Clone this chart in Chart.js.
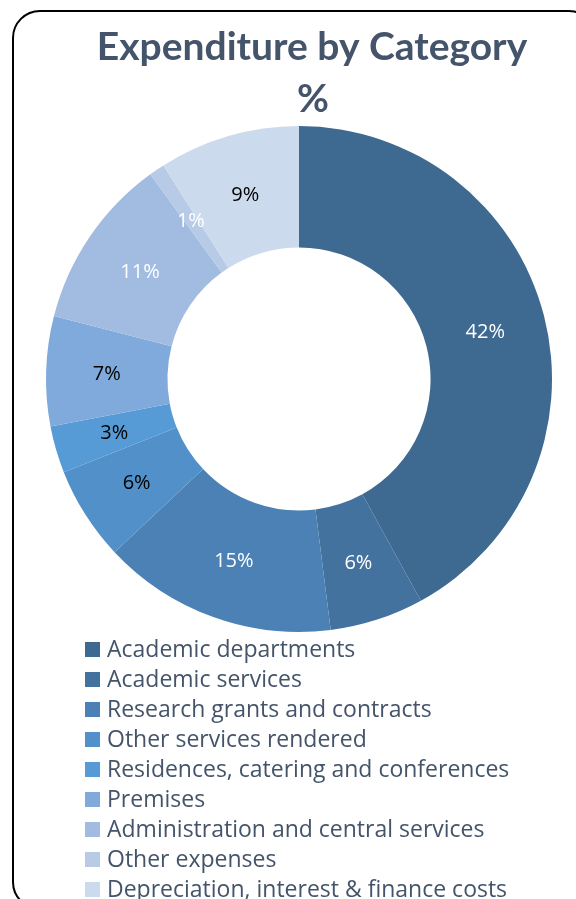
<!DOCTYPE html>
<html>
<head>
<meta charset="utf-8">
<script src="https://cdn.jsdelivr.net/npm/chart.js@4.4.0/dist/chart.umd.min.js"></script>
<style>
  html, body { margin: 0; padding: 0; background: #fff; overflow: hidden; }
  .frame {
    position: absolute; left: 12px; top: 10px; width: 585px; height: 900px;
    border: 2px solid #000; border-radius: 28px; box-sizing: border-box;
  }
  #wrap { position: absolute; left: 0; top: 0; width: 576px; height: 899px; }
</style>
</head>
<body>
<div class="frame"></div>
<div id="wrap"><canvas id="myChart" width="576" height="899"></canvas></div>
<script>
const categories = [
  "Academic departments",
  "Academic services",
  "Research grants and contracts",
  "Other services rendered",
  "Residences, catering and conferences",
  "Premises",
  "Administration and central services",
  "Other expenses",
  "Depreciation, interest & finance costs",
];
const percentages = [42, 6, 15, 6, 3, 7, 11, 1, 9];
const sliceColors = [
  "#3e6991", "#44729e", "#4b81b5", "#5190c8", "#579bd6",
  "#80aadb", "#a1bce0", "#b7cbe6", "#cbdaed",
];
const labelColors = [
  "#ffffff", "#ffffff", "#ffffff", "#000000", "#000000",
  "#000000", "#ffffff", "#ffffff", "#000000",
];
const titleLines = ["Expenditure by Category", "%"];

const textColor = "#44546a";

// title drawn by hand, it sits a bit right of the ring's centre
const titlePlugin = {
  id: "titlePlugin",
  afterDraw(chart) {
    const ctx = chart.ctx;
    ctx.save();
    ctx.font = "bold 39px Lato";
    ctx.fillStyle = textColor;
    ctx.textAlign = "center";
    ctx.textBaseline = "alphabetic";
    ctx.fillText(titleLines[0], 312, 60);
    ctx.fillText(titleLines[1], 313, 112);
    ctx.restore();
  },
};

// percent labels at the middle of each ring slice
const sliceLabels = {
  id: "sliceLabels",
  afterDatasetsDraw(chart) {
    const ctx = chart.ctx;
    const meta = chart.getDatasetMeta(0);
    ctx.save();
    ctx.font = "20px 'Open Sans'";
    ctx.textAlign = "center";
    ctx.textBaseline = "middle";
    meta.data.forEach((arc, i) => {
      const p = arc.tooltipPosition();
      ctx.fillStyle = labelColors[i];
      ctx.fillText(percentages[i] + "%", p.x, p.y + 1);
    });
    ctx.restore();
  },
};

// one legend entry per line, under the ring
const listLegend = {
  id: "listLegend",
  afterDraw(chart) {
    const ctx = chart.ctx;
    const left = 85;
    const top = chart.chartArea.bottom + 17;
    const rowH = 30;
    ctx.save();
    ctx.font = "23px 'Open Sans'";
    ctx.textBaseline = "middle";
    categories.forEach((name, i) => {
      const y = top + i * rowH;
      ctx.fillStyle = sliceColors[i];
      ctx.fillRect(left, y - 7, 15, 15);
      ctx.fillStyle = textColor;
      ctx.fillText(name, left + 22, y + 1);
    });
    ctx.restore();
  },
};

const myChartRef = document.getElementById("myChart").getContext("2d");

new Chart(myChartRef, {
  type: "doughnut",
  data: {
    labels: categories,
    datasets: [
      {
        data: percentages,
        backgroundColor: sliceColors,
        borderWidth: 0,
      },
    ],
  },
  options: {
    responsive: false,
    animation: false,
    cutout: "52%",
    layout: {
      padding: { left: 46, right: 24, top: 126, bottom: 267 },
    },
    plugins: {
      legend: { display: false },
      tooltip: { enabled: false },
      title: { display: false },
    },
  },
  plugins: [sliceLabels, listLegend, titlePlugin],
});
</script>
</body>
</html>
